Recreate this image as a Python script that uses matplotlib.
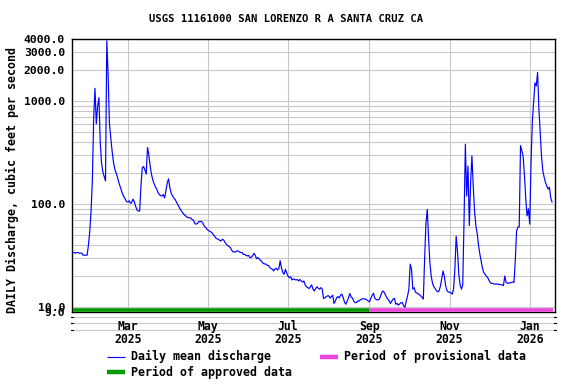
import matplotlib
matplotlib.use("Agg")
import matplotlib.pyplot as plt
import matplotlib.ticker as mticker
from matplotlib.lines import Line2D
import pandas as pd

title = "USGS 11161000 SAN LORENZO R A SANTA CRUZ CA"
ylabel = "DAILY Discharge, cubic feet per second"

# Daily mean discharge (cfs), month by month
q_2025_01 = [34, 34, 33.5, 34, 34, 33.5, 33.5, 33.5, 32, 32, 32, 32, 40, 54]  # from Jan 18
q_2025_02 = [85, 170, 680, 1330, 600, 890, 1080, 400, 250, 205, 185, 168, 3850, 1800,
             600, 440, 330, 260, 220, 203, 185, 165, 150, 136, 125, 118, 112, 106]
q_2025_03 = [105, 108, 102, 104, 112, 105, 95, 88, 86, 86, 150, 225, 232, 215, 196, 355,
             300, 235, 195, 172, 158, 147, 140, 130, 124, 121, 120, 124, 115, 135, 160]
q_2025_04 = [176, 145, 128, 121, 115, 111, 105, 99, 94, 89, 85, 82, 79, 77, 75, 74, 74,
             73, 71, 70, 65, 64, 65, 67.5, 68, 68, 66, 62, 60, 58]
q_2025_05 = [56, 55, 54, 53, 51, 49, 47, 46, 45.7, 44.5, 44, 45.7, 45, 42.5, 41, 39.5, 39,
             38, 36, 34.5, 34.4, 34.4, 35.2, 35.2, 34.4, 34, 33.9, 32.6, 32.6, 31.8, 31.5]
q_2025_06 = [31.8, 30.3, 30.5, 31.5, 33.4, 32, 29.6, 30.3, 29.5, 28.5, 27.8, 26.7, 26.3,
             26.3, 25.6, 25.5, 24.5, 23.7, 23.5, 22.5, 23.5, 23.9, 23, 23.7, 28.3, 24,
             21.7, 20.9, 23.3, 21.5]
q_2025_07 = [20, 19.4, 19.8, 18.4, 18.9, 18.6, 18.4, 18.6, 18, 18.6, 18, 17.6, 18, 16.5,
             15.8, 15.5, 15.2, 15.8, 16.5, 15, 14.4, 15.2, 15.8, 15.3, 15, 15.5, 15, 12.2,
             12.3, 12.7, 12.9]
q_2025_08 = [12.9, 12.3, 12.7, 13.1, 10.9, 11.5, 12.4, 12.7, 12.3, 13.1, 13.4, 12.4, 11.2,
             10.7, 11.5, 12.3, 13.6, 12.6, 12.3, 11.5, 11.1, 11.1, 11.5, 11.5, 11.8, 12,
             12.1, 12.1, 12, 11.8, 11.5]
q_2025_09 = [11.3, 12.2, 13, 13.7, 12.3, 11.9, 11.8, 11.8, 12.4, 13.5, 14.4, 14.1, 13.3,
             12.5, 12, 11.5, 10.9, 11.5, 12, 12.2, 10.7, 10.9, 10.5, 10.8, 11.1, 11.1,
             10.3, 10, 11.5, 12.9]
q_2025_10 = [15, 26.2, 23.4, 15, 15.5, 14, 13.8, 13.5, 13.3, 12.9, 12.5, 12, 30, 66, 89,
             46, 27, 20, 17.1, 15.8, 15.2, 14.5, 14.1, 14.4, 16, 19, 22.5, 20, 16.2, 14.5,
             14.1]
q_2025_11 = [14, 13.8, 13.4, 15, 23, 49, 35, 21, 16.5, 15, 16.5, 70, 382, 120, 234, 62,
             160, 294, 150, 85, 62, 52, 40, 33, 28, 24, 21.7, 20.9, 20.1, 19.4]
q_2025_12 = [18.3, 17.3, 17.1, 17.0, 16.8, 16.8, 16.8, 16.8, 16.6, 16.6, 16.5, 16.2, 20.1,
             17.5, 17.1, 17.1, 17.3, 17.4, 17.6, 17.4, 28, 55, 60, 60, 370, 330, 290, 190,
             112, 77, 90]
q_2026_01 = [64, 250, 645, 1000, 1500, 1400, 1900, 836, 495, 290, 210, 182, 162, 150, 140,
             146, 115, 105]

month_starts = ["2025-01-18", "2025-02-01", "2025-03-01", "2025-04-01", "2025-05-01",
                "2025-06-01", "2025-07-01", "2025-08-01", "2025-09-01", "2025-10-01",
                "2025-11-01", "2025-12-01", "2026-01-01"]
month_values = [q_2025_01, q_2025_02, q_2025_03, q_2025_04, q_2025_05, q_2025_06,
                q_2025_07, q_2025_08, q_2025_09, q_2025_10, q_2025_11, q_2025_12,
                q_2026_01]

approved_period = ["2025-01-18", "2025-09-01"]
provisional_period = ["2025-09-01", "2026-01-19"]

ytick_values = [9, 10, 100, 1000, 2000, 3000, 4000]
ytick_labels = ["9.0", "10.0", "100.0", "1000.0", "2000.0", "3000.0", "4000.0"]
xtick_dates = ["2025-03-01", "2025-05-01", "2025-07-01", "2025-09-01", "2025-11-01",
               "2026-01-01"]
xtick_labels = ["Mar\n2025", "May\n2025", "Jul\n2025", "Sep\n2025", "Nov\n2025",
                "Jan\n2026"]
below_grid_values = [8, 7, 6]

# ---------------------------------------------------------------
dates = []
values = []
for start, vals in zip(month_starts, month_values):
    dates.extend(pd.date_range(start, periods=len(vals), freq="D"))
    values.extend(vals)

FONT = "DejaVu Sans Mono"
W, H = 576, 384
fig = plt.figure(figsize=(W / 100, H / 100), dpi=100)
ax_l, ax_r, ax_t, ax_b = 72, 555, 39, 312
ax = fig.add_axes([ax_l / W, 1 - ax_b / H, (ax_r - ax_l) / W, (ax_b - ax_t) / H])

grid_color = "#c8c8c8"
ax.set_yscale("log")
ax.set_ylim(9, 4000)
ax.set_xlim(pd.Timestamp("2025-01-17 12:00"), pd.Timestamp("2026-01-20 06:00"))

ax.yaxis.set_major_locator(mticker.FixedLocator(ytick_values))
ax.yaxis.set_major_formatter(mticker.FixedFormatter(ytick_labels))
ax.yaxis.set_minor_locator(mticker.LogLocator(base=10, subs=range(2, 10), numticks=20))
ax.yaxis.set_minor_formatter(mticker.NullFormatter())
ax.set_xticks([pd.Timestamp(d) for d in xtick_dates])
ax.set_xticklabels(xtick_labels)

ax.grid(which="both", axis="y", color=grid_color, lw=0.8, zorder=0)
ax.grid(which="major", axis="x", color=grid_color, lw=0.8, zorder=0)
ax.tick_params(axis="both", which="both", length=0)
ax.tick_params(axis="y", pad=5)
ax.tick_params(axis="x", pad=5.5)
for lab in ax.get_yticklabels():
    lab.set_fontfamily(FONT); lab.set_fontweight("bold"); lab.set_fontsize(8.2)
for lab in ax.get_xticklabels():
    lab.set_fontfamily(FONT); lab.set_fontweight("bold"); lab.set_fontsize(8.3)
    lab.set_linespacing(1.05)

for s in ax.spines.values():
    s.set_color("black"); s.set_linewidth(1.0)

# gridlines that continue below the plot frame
for v in below_grid_values:
    ax.axhline(v, color=grid_color, lw=0.8, clip_on=False, zorder=0)
    for xe in (0, 1):
        ax.add_line(Line2D([xe - 0.002, xe + 0.002], [v, v], transform=ax.get_yaxis_transform(),
                           color="black", lw=0.8, clip_on=False))

ax.plot(dates, values, color="#0000ff", lw=0.85, zorder=3)

green = "#009900"
pink = "#ee44dd"
ax.plot([pd.Timestamp(d) for d in approved_period], [9.4, 9.4], color=green, lw=2.6,
        solid_capstyle="butt", zorder=4)
ax.plot([pd.Timestamp(d) for d in provisional_period], [9.4, 9.4], color=pink, lw=2.6,
        solid_capstyle="butt", zorder=4)

fig.text(286 / W, 1 - 19 / H, title, ha="center", va="center", fontfamily=FONT,
         fontweight="bold", fontsize=7.6)
fig.text(12 / W, 1 - 180 / H, ylabel, rotation=90, ha="center", va="center",
         fontfamily=FONT, fontweight="bold", fontsize=8.4)

# legend
def legend_item(x0, y, color, lw, text):
    fig.add_artist(Line2D([x0 / W, (x0 + 18) / W], [1 - y / H, 1 - y / H], color=color,
                          lw=lw, solid_capstyle="butt"))
    fig.text((x0 + 24) / W, 1 - y / H, text, ha="left", va="center", fontfamily=FONT,
             fontweight="bold", fontsize=8.4)

legend_item(107, 356.5, "#0000ff", 0.85, "Daily mean discharge")
legend_item(320, 356.5, pink, 3.2, "Period of provisional data")
legend_item(107, 372, green, 3.2, "Period of approved data")

fig.savefig("out.png", dpi=100)
